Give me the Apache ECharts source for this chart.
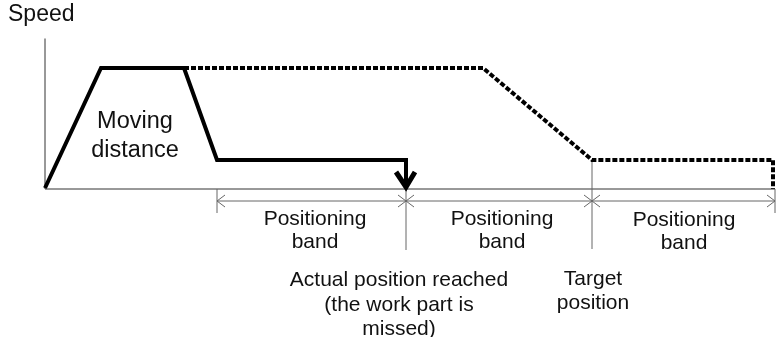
<!DOCTYPE html>
<html>
<head>
<meta charset="utf-8">
<script src="https://cdn.jsdelivr.net/npm/echarts@6/dist/echarts.min.js"></script>
<style>html,body{margin:0;padding:0;background:#fff}#c{width:777px;height:337px}</style>
</head>
<body>
<div id="c"></div>
<script>
// Position (x) and speed (y) values
var solidX = [0, 56, 139, 172, 361, 361];
var solidY = [1, 121, 121, 29, 29, 3];
var dottedX = [139, 438, 547, 728, 728];
var dottedY = [121, 121, 29, 29, 0];
// Positioning band boundaries along the position axis
var bandEdges = [172, 361, 547, 730];
var bandLabel = "Positioning\nband";
var yAxisLabel = "Speed";
var areaLabel = "Moving\ndistance";
var actualLabel = "Actual position reached\n(the work part is\nmissed)";
var targetLabel = "Target\nposition";

var chart = echarts.init(document.getElementById('c'), null, {renderer: 'canvas'});
var FONT = '"Liberation Sans", Arial, sans-serif';

function pts(xs, ys) { return xs.map(function (x, i) { return [x, ys[i]]; }); }

var dimY = -12;
var dimSegs = [];
dimSegs.push({coords: [[bandEdges[0], dimY], [bandEdges[bandEdges.length - 1], dimY]]});
for (var i = 0; i < bandEdges.length - 1; i++) {
  var a = bandEdges[i], b = bandEdges[i + 1];
  dimSegs.push({coords: [[a + 8, dimY + 6], [a, dimY], [a + 8, dimY - 6]]});
  dimSegs.push({coords: [[b - 8, dimY + 6], [b, dimY], [b - 8, dimY - 6]]});
}
var tickTop = [0, 0, 29, 0];
var tickBottom = [-24, -61, -60, -24];
bandEdges.forEach(function (x, i) {
  dimSegs.push({coords: [[x, tickTop[i]], [x, tickBottom[i]]]});
});

var arrowHead = [[351, 17], [361, 2], [370, 17]];

chart.setOption({
  animation: false,
  grid: {left: 45, right: 2, top: 39, bottom: 0},
  xAxis: {type: 'value', min: 0, max: 730, show: false},
  yAxis: {type: 'value', min: -148, max: 150, show: false},
  series: [
    {type: 'lines', coordinateSystem: 'cartesian2d', polyline: true, silent: true,
     lineStyle: {color: '#333', width: 1, opacity: 1},
     data: [{coords: [[0, 0], [0, 151]]}, {coords: [[0, 0], [730, 0]]}]},
    {type: 'lines', coordinateSystem: 'cartesian2d', polyline: true, silent: true,
     lineStyle: {color: '#666', width: 1, opacity: 1}, data: dimSegs},
    {type: 'lines', coordinateSystem: 'cartesian2d', polyline: true, silent: true,
     lineStyle: {color: '#000', width: 4, opacity: 1, type: [5, 2], cap: 'butt'},
     data: [{coords: pts(dottedX, dottedY)}]},
    {type: 'lines', coordinateSystem: 'cartesian2d', polyline: true, silent: true,
     lineStyle: {color: '#000', width: 4, opacity: 1, join: 'miter'},
     data: [{coords: pts(solidX, solidY)}]},
    {type: 'lines', coordinateSystem: 'cartesian2d', polyline: true, silent: true,
     lineStyle: {color: '#000', width: 5, opacity: 1, join: 'miter'},
     data: [{coords: arrowHead}]}
  ],
  graphic: [
    {type: 'text', left: 8, top: 3, style: {text: yAxisLabel, font: '23px ' + FONT, fill: '#111'}},
    {type: 'text', x: 135, y: 136, style: {text: areaLabel, font: '23.5px ' + FONT, fill: '#111', align: 'center', verticalAlign: 'middle', lineHeight: 29}},
    {type: 'text', x: 315, y: 231, style: {text: bandLabel, font: '21px ' + FONT, fill: '#111', align: 'center', verticalAlign: 'middle', lineHeight: 23}},
    {type: 'text', x: 502, y: 231, style: {text: bandLabel, font: '21px ' + FONT, fill: '#111', align: 'center', verticalAlign: 'middle', lineHeight: 23}},
    {type: 'text', x: 684, y: 232, style: {text: bandLabel, font: '21px ' + FONT, fill: '#111', align: 'center', verticalAlign: 'middle', lineHeight: 23}},
    {type: 'text', x: 399, y: 305, style: {text: actualLabel, font: '21px ' + FONT, fill: '#111', align: 'center', verticalAlign: 'middle', lineHeight: 24.5}},
    {type: 'text', x: 593, y: 291, style: {text: targetLabel, font: '21px ' + FONT, fill: '#111', align: 'center', verticalAlign: 'middle', lineHeight: 24}}
  ]
});
</script>
</body>
</html>
